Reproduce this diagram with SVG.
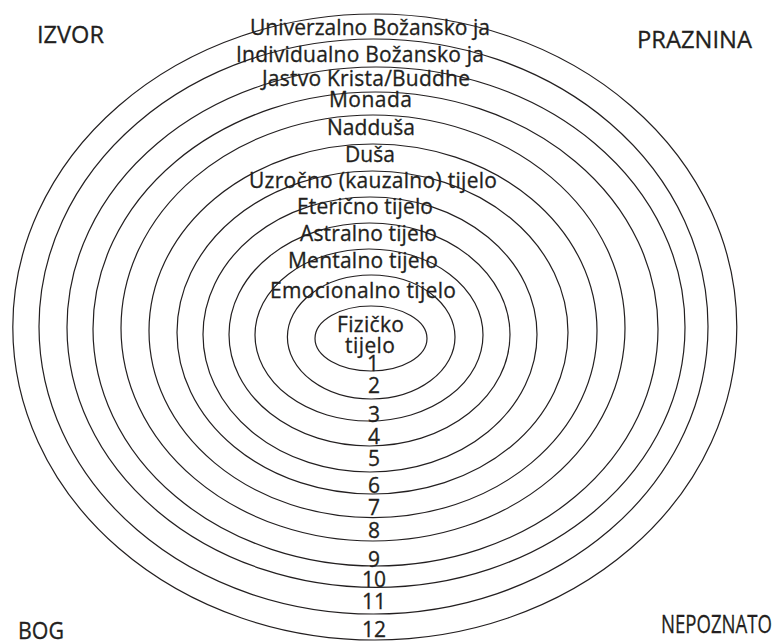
<svg xmlns="http://www.w3.org/2000/svg" width="774" height="644" viewBox="0 0 774 644">
<style>
.ring{fill:none;stroke:#231f20;stroke-width:1.2}
.lbl{font-family:"Open Sans","Noto Sans","Liberation Sans",sans-serif;font-size:21px;fill:#231f20;stroke:#231f20;stroke-width:0.3;text-anchor:middle}
.num{font-family:"Open Sans","Noto Sans","Liberation Sans",sans-serif;font-size:21px;fill:#231f20;stroke:#231f20;stroke-width:0.3;text-anchor:middle}
.corner{font-family:"Open Sans","Noto Sans","Liberation Sans",sans-serif;font-size:24px;fill:#231f20;stroke:#231f20;stroke-width:0.3}
</style>
<rect width="774" height="644" fill="#fff"/>
<g id="ring12"><ellipse class="ring" cx="374.8" cy="327" rx="362" ry="313"/><text class="lbl" x="370" y="35" textLength="240">Univerzalno Božansko ja</text><text class="num" x="374" y="637">12</text></g>
<g id="ring11"><ellipse class="ring" cx="373.5" cy="326.5" rx="334.5" ry="287.5"/><text class="lbl" x="360" y="61.5" textLength="248">Individualno Božansko ja</text><text class="num" x="374" y="609">11</text></g>
<g id="ring10"><ellipse class="ring" cx="376" cy="327.2" rx="309" ry="260.2"/><text class="lbl" x="366" y="86" textLength="208">Jastvo Krista/Buddhe</text><text class="num" x="374" y="587">10</text></g>
<g id="ring9"><ellipse class="ring" cx="375.5" cy="329" rx="282.5" ry="237"/><text class="lbl" x="370.5" y="107" textLength="83">Monada</text><text class="num" x="374" y="566.5">9</text></g>
<g id="ring8"><ellipse class="ring" cx="373" cy="328" rx="252" ry="213"/><text class="lbl" x="371" y="135" textLength="88">Nadduša</text><text class="num" x="374" y="538">8</text></g>
<g id="ring7"><ellipse class="ring" cx="373" cy="330.8" rx="224" ry="186.8"/><text class="lbl" x="370" y="161.5" textLength="50">Duša</text><text class="num" x="374" y="515">7</text></g>
<g id="ring6"><ellipse class="ring" cx="372.5" cy="332.5" rx="195.5" ry="161.5"/><text class="lbl" x="373" y="188" textLength="248">Uzročno (kauzalno) tijelo</text><text class="num" x="374" y="493">6</text></g>
<g id="ring5"><ellipse class="ring" cx="370" cy="334.5" rx="167" ry="137.5"/><text class="lbl" x="365" y="214" textLength="136">Eterično tijelo</text><text class="num" x="374" y="465.5">5</text></g>
<g id="ring4"><ellipse class="ring" cx="369.5" cy="334.5" rx="140.5" ry="111.5"/><text class="lbl" x="368.5" y="240.5" textLength="137">Astralno tijelo</text><text class="num" x="374" y="444">4</text></g>
<g id="ring3"><ellipse class="ring" cx="369" cy="335" rx="114" ry="86"/><text class="lbl" x="363" y="268" textLength="150">Mentalno tijelo</text><text class="num" x="374" y="421.5">3</text></g>
<g id="ring2"><ellipse class="ring" cx="371.2" cy="337" rx="83.8" ry="62"/><text class="lbl" x="363" y="298" textLength="186">Emocionalno tijelo</text><text class="num" x="374" y="393">2</text></g>
<g id="ring1"><ellipse class="ring" cx="371" cy="338.5" rx="56" ry="32.5"/><text class="lbl" x="370.5" y="332" textLength="67">Fizičko</text><text class="lbl" x="370" y="353" textLength="50">tijelo</text><text class="num" x="373" y="371">1</text></g>
<g id="corners">
<text class="corner" x="37" y="43" textLength="67" lengthAdjust="spacingAndGlyphs">IZVOR</text>
<text class="corner" x="637" y="48" textLength="115" lengthAdjust="spacingAndGlyphs">PRAZNINA</text>
<text class="corner" x="18" y="639" textLength="46" lengthAdjust="spacingAndGlyphs">BOG</text>
<text class="corner" x="661" y="633" textLength="111" lengthAdjust="spacingAndGlyphs" style="font-size:26px">NEPOZNATO</text>
</g>
</svg>
